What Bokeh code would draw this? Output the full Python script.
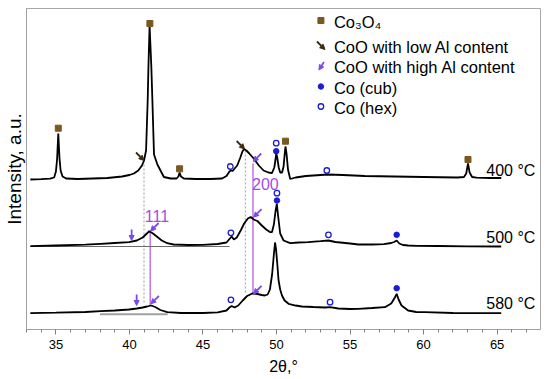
import math
from bokeh.plotting import figure
from bokeh.models import Label, Range1d, FixedTicker, Arrow, NormalHead, ColumnDataSource
from bokeh.embed import file_html
from bokeh.resources import INLINE

FONT = "Liberation Sans"

# ---------------- data (2theta in degrees, intensity in a.u. incl. vertical offset) -------------
two_theta_400 = [33.26, 34.0, 34.6, 34.88, 35.0, 35.08, 35.16, 35.24, 35.32, 35.45, 35.7, 36.5, 37.5, 38.5,
                 39.5, 40.0, 40.3, 40.6, 40.85, 40.99, 41.13, 41.24, 41.29, 41.37, 41.49, 41.56, 41.67, 41.9,
                 42.34, 42.8, 43.2, 43.33, 43.41, 43.5, 43.7, 44.5, 45.5, 46.3, 46.6, 46.8, 46.9, 47.02, 47.15,
                 47.33, 47.54, 47.68, 47.8, 47.95, 48.15, 48.45, 48.8, 49.12, 49.45, 49.69, 49.85, 49.93, 49.98,
                 50.05, 50.15, 50.25, 50.38, 50.48, 50.56, 50.61, 50.68, 50.78, 50.93, 51.3, 52.0, 53.0, 53.5,
                 54.5, 56.0, 58.0, 60.0, 62.3, 62.75, 62.9, 63.02, 63.13, 63.3, 63.6, 64.5, 65.28]
intensity_400 = [150, 150.3, 150.8, 152, 158, 170, 196, 172, 159, 153, 151, 150.5, 151, 151.5,
                 153, 154.5, 156, 159, 164, 169, 179, 229, 262, 304, 262, 229, 175, 165,
                 152.5, 151, 151, 153, 157, 153, 151, 150.5, 150.5, 151, 153.5, 158, 159, 158.5, 161,
                 164, 172, 178, 180.5, 179, 176, 171, 164, 159, 157, 156.3, 162, 170, 176,
                 172, 162, 157, 157, 163, 176, 183, 176, 160, 150.5, 152, 153.5, 154.5, 155,
                 154.5, 153.5, 153, 152.5, 152, 152.5, 156, 166, 157, 152.5, 151.8, 151.5, 151.5]

two_theta_500 = [33.26, 35.0, 37.0, 38.05, 39.0, 39.97, 40.5, 40.9, 41.15, 41.35, 41.6, 41.9, 42.2, 42.57,
                 43.0, 44.0, 45.0, 46.0, 46.6, 46.8, 46.95, 47.1, 47.3, 47.6, 47.8, 48.05, 48.25, 48.45,
                 48.7, 49.0, 49.3, 49.55, 49.69, 49.82, 49.93, 50.02, 50.12, 50.25, 50.48, 50.93, 51.5,
                 52.15, 53.0, 53.53, 54.0, 55.0, 55.56, 56.5, 57.3, 57.8, 58.0, 58.17, 58.35, 58.6, 58.95,
                 59.5, 61.0, 63.0, 65.28]
intensity_500 = [83.3, 84, 84.8, 85.7, 86.5, 87.3, 89, 92, 95.5, 98.3, 96, 92.5, 89, 86.3,
                 85, 84.5, 84.7, 85.5, 87, 90.5, 93, 90, 92, 100, 106, 111, 112.5, 110,
                 108.5, 104, 100, 97.5, 97.3, 105, 118, 125.7, 112, 96, 89, 86.3, 87,
                 87.3, 88.3, 89, 87.5, 86, 85, 85, 85.3, 86.5, 87.5, 89, 86, 84.5, 84,
                 83.7, 83.5, 83.2, 83]

two_theta_580 = [33.26, 35.0, 37.0, 38.05, 39.0, 39.97, 40.5, 40.9, 41.2, 41.48, 41.75, 42.1, 42.57, 43.5,
                 45.0, 46.0, 46.6, 46.8, 46.95, 47.15, 47.4, 47.7, 48.0, 48.35, 48.7, 49.0, 49.2, 49.4,
                 49.55, 49.7, 49.82, 49.9, 49.97, 50.05, 50.14, 50.25, 50.37, 50.55, 50.82, 51.3, 51.72,
                 52.5, 53.3, 53.64, 54.2, 55.0, 55.56, 56.5, 57.37, 57.8, 58.05, 58.17, 58.3, 58.5, 58.95,
                 59.5, 60.08, 62.0, 65.28]
intensity_580 = [16.3, 16.8, 17.5, 18.3, 19, 20, 21, 22, 23, 24, 22.5, 19.5, 17.3, 16.5,
                 16.5, 17.2, 19, 22, 23.5, 22, 24, 29, 33.5, 36, 35.5, 34.5, 34, 35,
                 40, 55, 75, 87, 80, 66, 49, 40, 34, 29, 25.7, 24, 23,
                 22.5, 22, 22.3, 21, 20.5, 20.7, 21.5, 22.3, 26, 32, 35.7, 30, 24, 19,
                 17.5, 17.3, 16.5, 16.3]

# background (baseline) segments under the 500 and 580 patterns
baseline_500_x = [33.26, 46.8]
baseline_500_y = [83, 83]
baseline_580_x = [38.0, 42.6]
baseline_580_y = [15.3, 15.3]

temperature_labels = ["400 °C", "500 °C", "580 °C"]
temperature_label_y = [159, 92.3, 25.7]

# phase markers
co3o4_x = [35.16, 41.39, 43.41, 50.61, 63.02]
co3o4_y = [201.3, 306, 160.7, 188.3, 170]
co_cub_x = [49.98, 50.03, 58.17, 58.17]
co_cub_y = [178.3, 129, 94.7, 41.3]
co_hex_x = [46.86, 49.98, 53.42, 46.9, 50.03, 53.53, 46.9, 53.64]
co_hex_y = [163, 186.3, 159, 96.7, 136.3, 94.7, 29.7, 27.3]
coo_low_x = [40.99, 47.83]            # arrow tips
coo_low_y = [169, 180.5]
coo_high_diag_x = [48.42, 41.44, 48.44, 41.46, 48.44]
coo_high_diag_y = [168, 98.5, 112.3, 25.7, 35.7]
coo_high_down_x = [40.15, 40.49]
coo_high_down_y = [89, 24]

# reference lines
dotted_x = [40.99, 47.88]
dotted_top = [169, 179]
dotted_bottom = [26, 35]
hkl_line_x = [41.41, 48.40]
hkl_line_top = [97, 166]
hkl_line_bottom = [24, 36]
hkl_labels = ["111", "200"]
hkl_x = [41.87, 49.24]
hkl_y = [114, 146]

legend_labels = ["Co₃O₄", "CoO with low Al content", "CoO with high Al content", "Co (cub)", "Co (hex)"]

# ---------------- styling -------------
BROWN = "#7a5820"
DARK = "#3a2812"
VIOLET = "#7b4ae8"
PURPLE_LINE = "#b75ee6"
PURPLE_TEXT = "#a24de0"
BLUE = "#1c1cd6"
GRAY = "#9a9a9a"

W, H = 548, 378
ML, MR, MT, MB = 25, 8, 8, 49
X0, X1 = 33.0, 67.95
Y0, Y1 = 0, H - MT - MB
p = figure(width=W, height=H, output_backend="svg", toolbar_location=None,
           x_range=Range1d(X0, X1), y_range=Range1d(Y0, Y1),
           min_border_left=ML, min_border_right=MR, min_border_top=MT, min_border_bottom=MB)
p.background_fill_color = "white"
p.border_fill_color = "white"
p.outline_line_color = "#a8a8a8"
p.outline_line_width = 1
p.xgrid.visible = False
p.ygrid.visible = False

PX = (X1 - X0) / (W - ML - MR)   # degrees per screen pixel; y: 1 unit per pixel

def sx(px):   # screen pixel -> data x (for legend layout)
    return X0 + (px - ML) * PX

def sy(py):   # screen pixel -> data y
    return (H - MB) - py

ax = p.xaxis[0]
ax.ticker = FixedTicker(ticks=[35, 40, 45, 50, 55, 60, 65], minor_ticks=list(range(33, 68)))
ax.axis_line_color = "#a0a0a0"
ax.major_tick_line_color = "#808080"
ax.minor_tick_line_color = "#808080"
ax.major_tick_in = 0
ax.major_tick_out = 5
ax.minor_tick_in = 0
ax.minor_tick_out = 3
ax.major_label_standoff = 5
ax.major_label_text_font = FONT
ax.major_label_text_font_size = "13px"
ax.major_label_text_color = "black"
ax.axis_label = "2θ,°"
ax.axis_label_text_font = FONT
ax.axis_label_text_font_size = "16px"
ax.axis_label_text_font_style = "normal"
ax.axis_label_text_color = "black"
ax.axis_label_standoff = 6

ay = p.yaxis[0]
ay.ticker = FixedTicker(ticks=[])
ay.major_tick_out = 0
ay.major_tick_in = 0
ay.minor_tick_out = 0
ay.minor_tick_in = 0
ay.major_label_text_font_size = "0px"
ay.major_label_standoff = 0
ay.axis_line_color = "#a0a0a0"
ay.axis_label = "Intensity, a.u."
ay.axis_label_text_font = FONT
ay.axis_label_text_font_size = "19px"
ay.axis_label_text_font_style = "normal"
ay.axis_label_text_color = "black"
ay.axis_label_standoff = 2

# reference lines
p.segment(x0=dotted_x, y0=dotted_top, x1=dotted_x, y1=dotted_bottom,
          line_color=GRAY, line_width=1, line_dash="2 2")
p.segment(x0=hkl_line_x, y0=hkl_line_top, x1=hkl_line_x, y1=hkl_line_bottom,
          line_color=PURPLE_LINE, line_width=1.3)

# baselines
p.line(baseline_500_x, baseline_500_y, line_color="#6a6a6a", line_width=1)
p.line(baseline_580_x, baseline_580_y, line_color="#a0a0a0", line_width=2)

# patterns
for xs, ys in [(two_theta_400, intensity_400), (two_theta_500, intensity_500), (two_theta_580, intensity_580)]:
    p.line(xs, ys, line_color="black", line_width=1.8)

# markers
p.scatter(co3o4_x, co3o4_y, marker="square", size=6, fill_color=BROWN, line_color=BROWN)
p.scatter(co_cub_x, co_cub_y, marker="circle", size=5.5, fill_color=BLUE, line_color=BLUE)
p.scatter(co_hex_x, co_hex_y, marker="circle", size=5.5, fill_color="white", line_color=BLUE, line_width=1.3)

def arrows(tx, ty, dx_px, dy_px, color):
    src = ColumnDataSource(dict(x0=[x + dx_px * PX for x in tx], y0=[y + dy_px for y in ty], x1=tx, y1=ty))
    p.add_layout(Arrow(source=src, x_start="x0", y_start="y0", x_end="x1", y_end="y1",
                       line_color=color, line_width=1.8,
                       end=NormalHead(size=5, line_color=color, fill_color=color, line_width=1)))

arrows(coo_low_x, coo_low_y, -8, 8, DARK)
arrows(coo_high_diag_x, coo_high_diag_y, 8, 8, VIOLET)
arrows(coo_high_down_x, coo_high_down_y, 0, 11, VIOLET)

# texts
for t, y in zip(temperature_labels, temperature_label_y):
    p.add_layout(Label(x=67.6, y=y, text=t, text_align="right", text_baseline="middle",
                       text_font=FONT, text_font_size="16px", text_color="black"))
for t, x, y in zip(hkl_labels, hkl_x, hkl_y):
    p.add_layout(Label(x=x, y=y, text=t, text_align="center", text_baseline="middle",
                       text_font=FONT, text_font_size="16px", text_color=PURPLE_TEXT))

# ---------------- legend (drawn by hand, in screen-pixel layout) -------------
legend_glyph_px = 320
legend_text_px = 333
legend_row_py = [20, 45, 65.5, 86, 106]
p.scatter([sx(legend_glyph_px)], [sy(legend_row_py[0])], marker="square", size=6,
          fill_color=BROWN, line_color=BROWN)
arrows([sx(legend_glyph_px + 4)], [sy(legend_row_py[1] + 4)], -8, 8, DARK)
arrows([sx(legend_glyph_px - 2)], [sy(legend_row_py[2] + 4)], 5, 8, VIOLET)
p.scatter([sx(legend_glyph_px)], [sy(legend_row_py[3])], marker="circle", size=5.5,
          fill_color=BLUE, line_color=BLUE)
p.scatter([sx(legend_glyph_px)], [sy(legend_row_py[4])], marker="circle", size=5.5,
          fill_color="white", line_color=BLUE, line_width=1.3)
for t, py in zip(legend_labels, legend_row_py):
    p.add_layout(Label(x=sx(legend_text_px), y=sy(py + 1), text=t, text_align="left", text_baseline="middle",
                       text_font=FONT, text_font_size="16.5px", text_color="black"))

open("out.html", "w").write(file_html(p, INLINE))
